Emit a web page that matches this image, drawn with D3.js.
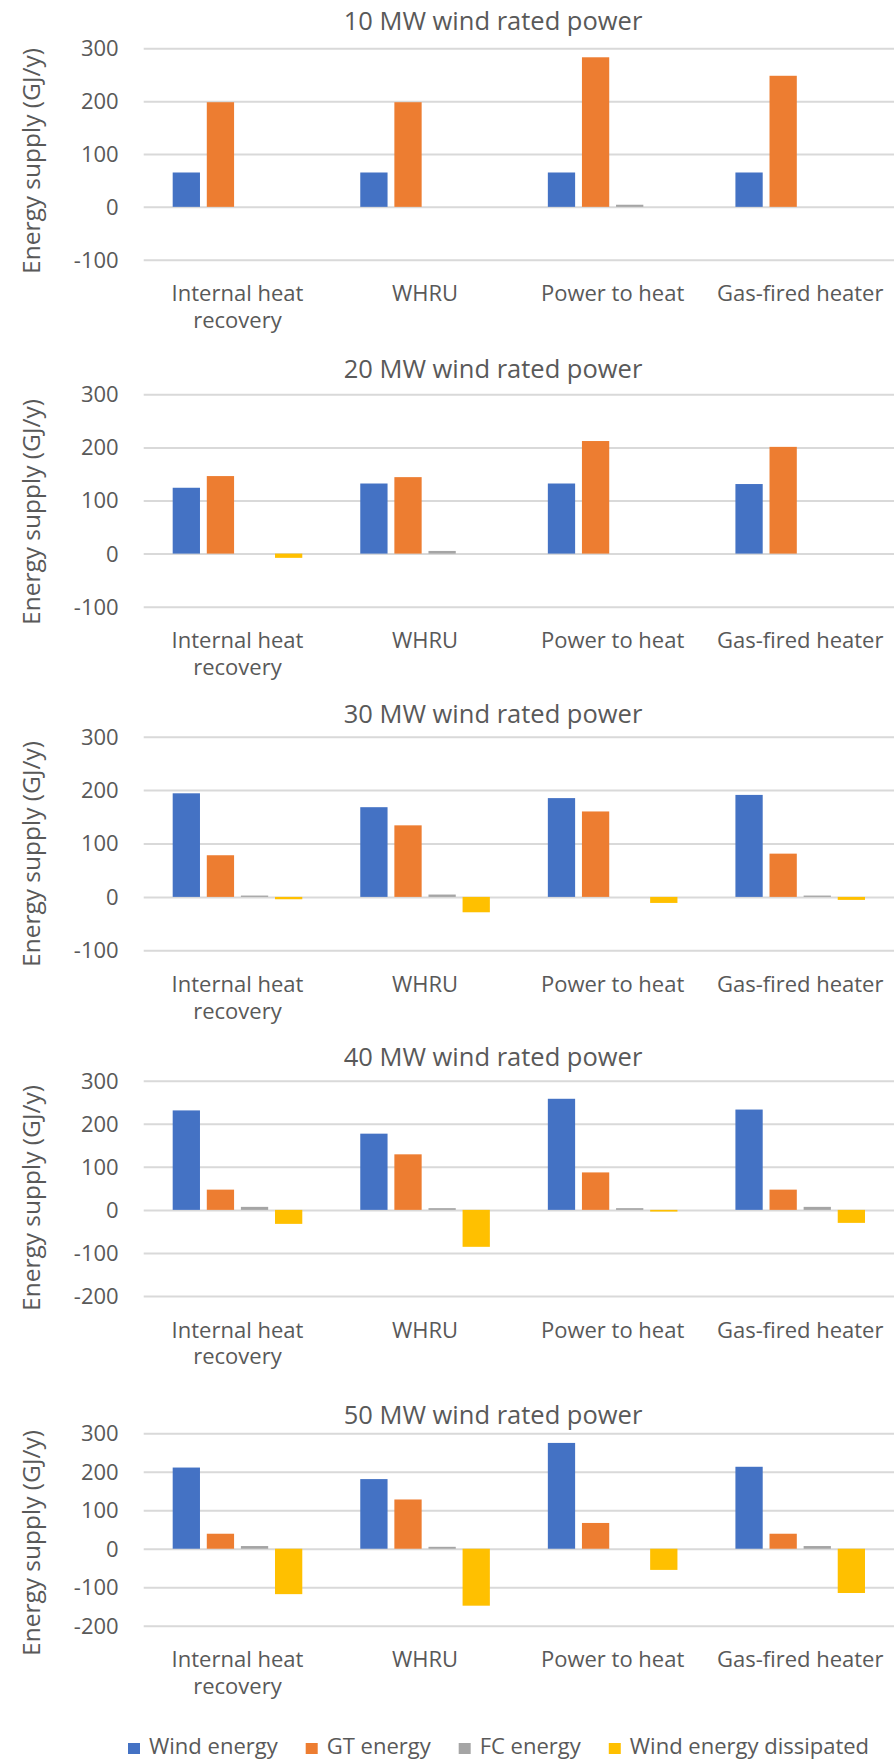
<!DOCTYPE html>
<html>
<head>
<meta charset="utf-8">
<script src="https://cdn.jsdelivr.net/npm/d3@7"></script>
<style>
  html, body { margin: 0; padding: 0; background: #ffffff; }
  svg { display: block; font-family: "Open Sans", "Noto Sans", sans-serif; }
</style>
</head>
<body>
<script>
// ---------------- DATA ----------------
const categories = ["Internal heat recovery", "WHRU", "Power to heat", "Gas-fired heater"];
const categoryLines = [["Internal heat", "recovery"], ["WHRU"], ["Power to heat"], ["Gas-fired heater"]];
const series = ["Wind energy", "GT energy", "FC energy", "Wind energy dissipated"];
const panelTitles = ["10 MW wind rated power", "20 MW wind rated power", "30 MW wind rated power",
                     "40 MW wind rated power", "50 MW wind rated power"];
const yAxisTitle = "Energy supply (GJ/y)";

// values per panel (rows) and category (columns)
const windEnergy = [
  [65, 65, 65, 65],
  [124, 132, 132, 131],
  [194, 168, 185, 191],
  [231, 177, 258, 233],
  [211, 181, 275, 213]
];
const gtEnergy = [
  [198, 198, 283, 248],
  [146, 144, 212, 201],
  [78, 134, 160, 81],
  [47, 129, 87, 47],
  [39, 128, 67, 39]
];
const fcEnergy = [
  [0, 0, 4, 0],
  [0, 5, 0, 0],
  [2.5, 4.4, 0, 2.5],
  [7, 4, 4, 7],
  [7, 5, 0, 7]
];
const windDissipated = [
  [0, 0, 0, 0],
  [-8, 0, 0, 0],
  [-4.4, -28.8, -11.3, -5.6],
  [-32.5, -85.8, -3.9, -30.2],
  [-118, -148, -55, -115]
];
const yTicks = [
  [-100, 0, 100, 200, 300],
  [-100, 0, 100, 200, 300],
  [-100, 0, 100, 200, 300],
  [-200, -100, 0, 100, 200, 300],
  [-200, -100, 0, 100, 200, 300]
];

// ---------------- STYLE / LAYOUT ----------------
const colors = ["#4472C4", "#ED7D31", "#A5A5A5", "#FFC000"];
const textColor = "#595959";
const gridColor = "#D9D9D9";
const W = 894, H = 1760;
const plotLeft = 143.7, plotRight = 894;
const layout = [
  { top: 48.3,   bottom: 259.7,  title: 30,     axisMid: 161 },
  { top: 394.3,  bottom: 606.7,  title: 377.7,  axisMid: 512 },
  { top: 736.7,  bottom: 950.3,  title: 722.7,  axisMid: 854 },
  { top: 1080.7, bottom: 1296,   title: 1066,   axisMid: 1198 },
  { top: 1433.3, bottom: 1625.7, title: 1424.3, axisMid: 1543 }
];
const titleX = 493;

const allSeries = [windEnergy, gtEnergy, fcEnergy, windDissipated];

const svg = d3.select("body").append("svg")
  .attr("width", W).attr("height", H)
  .attr("viewBox", `0 0 ${W} ${H}`);
svg.append("rect").attr("width", W).attr("height", H).attr("fill", "#fff");

const x0 = d3.scaleBand().domain(categories).range([plotLeft, plotRight]).padding(0);
const x1 = d3.scaleBand().domain(series).range([0, x0.bandwidth()])
  .paddingInner(0.2).paddingOuter(0.85);

layout.forEach((L, p) => {
  const ticks = yTicks[p];
  const y = d3.scaleLinear().domain([d3.min(ticks), d3.max(ticks)]).range([L.bottom, L.top]);
  const g = svg.append("g");

  // gridlines + tick labels via axis
  const axis = d3.axisLeft(y).tickValues(ticks).tickFormat(d => String(d))
    .tickSizeInner(-(plotRight - plotLeft)).tickSizeOuter(0).tickPadding(25);
  const ag = g.append("g").attr("transform", `translate(${plotLeft},0)`).call(axis);
  ag.select(".domain").remove();
  ag.selectAll(".tick line").attr("stroke", gridColor).attr("stroke-width", 2);
  ag.selectAll(".tick text").attr("fill", textColor).attr("font-size", 22)
    .attr("font-family", "'Open Sans', sans-serif").attr("dy", "0.34em");

  // bars
  const rows = [];
  categories.forEach((c, ci) => {
    series.forEach((s, si) => {
      rows.push({ c, s, si, v: allSeries[si][p][ci] });
    });
  });
  g.append("g").selectAll("rect").data(rows).join("rect")
    .attr("x", d => x0(d.c) + x1(d.s))
    .attr("width", x1.bandwidth())
    .attr("y", d => y(Math.max(0, d.v)))
    .attr("height", d => Math.abs(y(d.v) - y(0)))
    .attr("fill", d => colors[d.si]);

  // category labels
  categories.forEach((c, ci) => {
    const t = g.append("text")
      .attr("text-anchor", "middle")
      .attr("fill", textColor)
      .attr("font-size", 22);
    categoryLines[ci].forEach((line, li) => {
      t.append("tspan")
        .attr("x", x0(c) + x0.bandwidth() / 2)
        .attr("y", L.bottom + 41.5 + li * 26.7)
        .text(line);
    });
  });

  // title
  g.append("text")
    .attr("x", titleX).attr("y", L.title)
    .attr("text-anchor", "middle")
    .attr("fill", textColor)
    .attr("font-size", 25.5)
    .text(panelTitles[p]);

  // y axis title
  g.append("text")
    .attr("transform", `translate(40,${L.axisMid}) rotate(-90)`)
    .attr("text-anchor", "middle")
    .attr("fill", textColor)
    .attr("font-size", 24.5)
    .text(yAxisTitle);
});

// legend
const leg = svg.append("g");
let lx = 128;
series.forEach((s, i) => {
  leg.append("rect").attr("x", lx).attr("y", 1743).attr("width", 12).attr("height", 11)
    .attr("fill", colors[i]);
  const t = leg.append("text").attr("x", lx + 21).attr("y", 1754)
    .attr("fill", textColor).attr("font-size", 22).text(s);
  const w = t.node().getComputedTextLength();
  lx = lx + 21 + w + 28;
});
</script>
</body>
</html>
